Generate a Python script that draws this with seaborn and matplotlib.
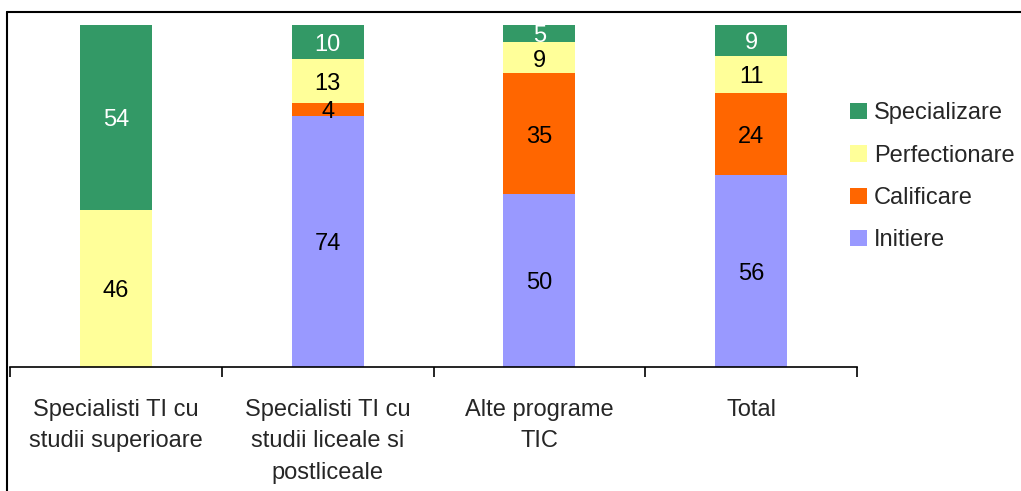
import numpy as np
import pandas as pd
import matplotlib
matplotlib.use("Agg")
import matplotlib.pyplot as plt
import seaborn as sns
from matplotlib.patches import Patch
from matplotlib.lines import Line2D

categories = ["Specialisti TI cu\nstudii superioare",
              "Specialisti TI cu\nstudii liceale si\npostliceale",
              "Alte programe\nTIC",
              "Total"]
series = ["Initiere", "Calificare", "Perfectionare", "Specializare"]
initiere = [0, 74, 50, 56]
calificare = [0, 4, 35, 24]
perfectionare = [46, 13, 9, 11]
specializare = [54, 10, 5, 9]
colors = {"Initiere": "#9999FF", "Calificare": "#FF6600",
          "Perfectionare": "#FFFF99", "Specializare": "#339966"}
text_colors = {"Initiere": "black", "Calificare": "black",
               "Perfectionare": "black", "Specializare": "white"}

sns.set_style("white")
plt.rcParams["font.family"] = ["Liberation Sans", "DejaVu Sans"]
FS = 17

vals = np.array([initiere, calificare, perfectionare, specializare], dtype=float)
pct = vals / vals.sum(axis=0) * 100
cum = np.cumsum(pct, axis=0)

fig = plt.figure(figsize=(10.21, 4.91), dpi=100)
W, H = 1021, 491
ax = fig.add_axes([10 / W, (H - 367) / H, (857 - 10) / W, (367 - 25) / H])

for i in range(len(series) - 1, -1, -1):
    df = pd.DataFrame({"cat": categories, "val": cum[i]})
    sns.barplot(data=df, x="cat", y="val", color=colors[series[i]],
                width=0.34, saturation=1, ax=ax, linewidth=0)

for i, s in enumerate(series):
    for j in range(len(categories)):
        v = vals[i, j]
        if v <= 0:
            continue
        y = cum[i, j] - pct[i, j] / 2
        ax.annotate(f"{int(v)}", xy=(j, y), xytext=(0, -2),
                    textcoords="offset points", ha="center", va="center",
                    fontsize=FS, color=text_colors[s])

ax.set_xlim(-0.5, 3.5)
ax.set_ylim(0, 100)
ax.set_xlabel("")
ax.set_ylabel("")
ax.set_yticks([])
for sp in ["left", "right", "top"]:
    ax.spines[sp].set_visible(False)
ax.spines["bottom"].set_color("black")
ax.spines["bottom"].set_linewidth(1.2)
ax.set_xticks(np.arange(len(categories)))
ax.set_xticklabels(categories, fontsize=FS, linespacing=1.55, va="top")
ax.set_xticks(np.arange(-0.5, 4.0, 1.0), minor=True)
ax.tick_params(axis="x", which="major", length=0, pad=23)
ax.tick_params(axis="x", which="minor", length=7, width=1.2, color="black",
               direction="out", bottom=True)

handles = [Patch(facecolor=colors[s], edgecolor="none", label=s)
           for s in reversed(series)]
fig.legend(handles=handles, loc="upper left",
           bbox_to_anchor=(841 / W, 1 - 93 / H), frameon=False,
           fontsize=FS, handlelength=0.7, handleheight=0.7,
           handletextpad=0.3, labelspacing=0.86, borderaxespad=0)

# outer frame lines (top and left)
fig.add_artist(Line2D([7 / W, 1.0], [1 - 12 / H, 1 - 12 / H],
                      transform=fig.transFigure, color="black", lw=1.5))
fig.add_artist(Line2D([7 / W, 7 / W], [0.0, 1 - 12 / H],
                      transform=fig.transFigure, color="black", lw=1.5))

fig.savefig("out.png", dpi=100)
